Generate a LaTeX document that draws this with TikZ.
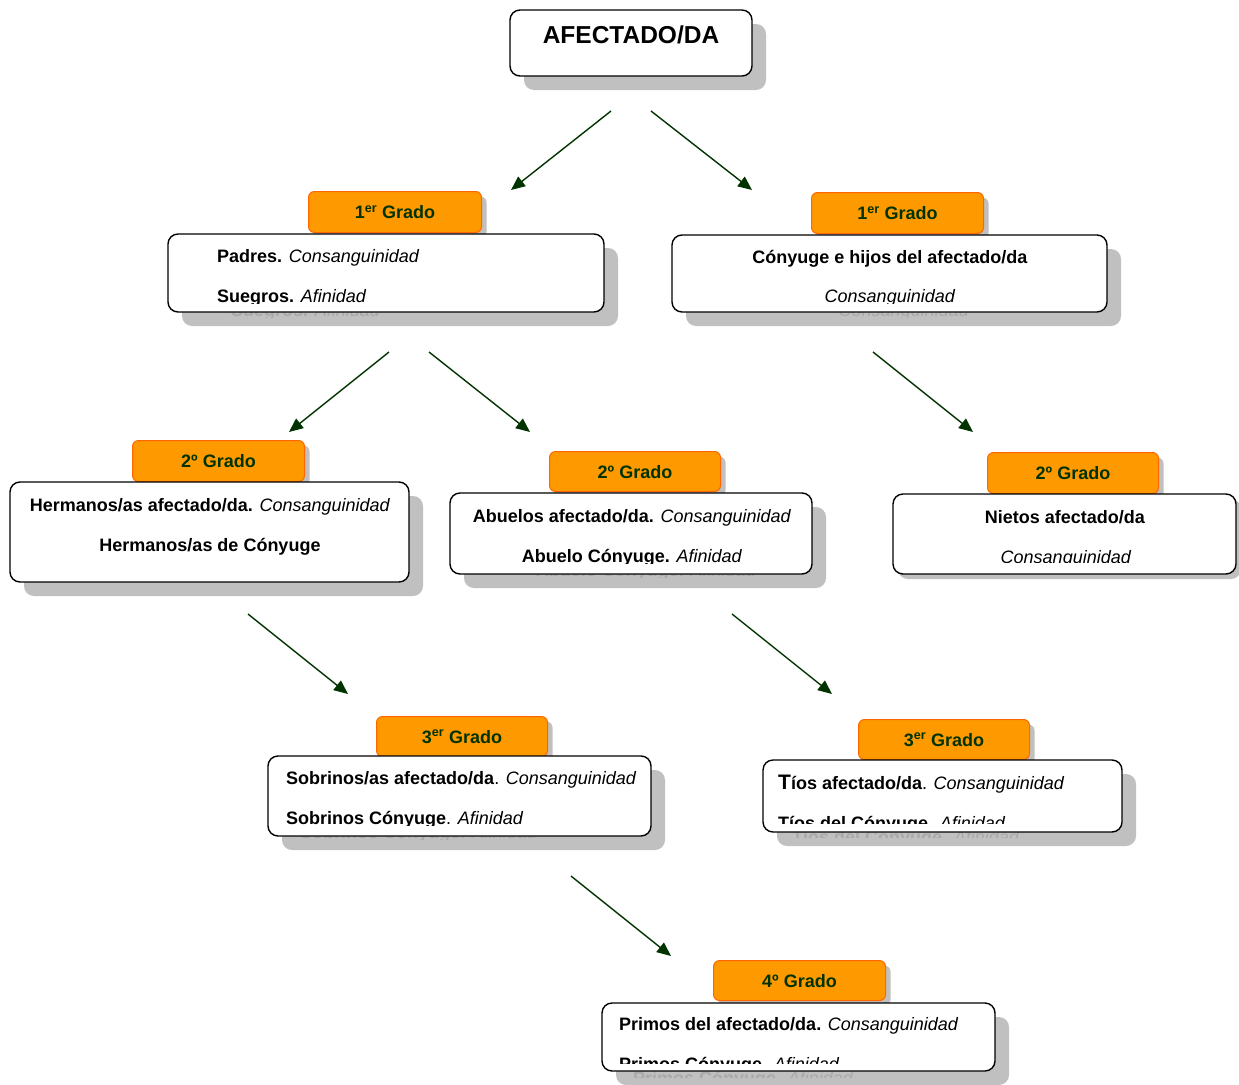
\documentclass[tikz,border=0pt]{standalone}
\usepackage{fontspec}
\setmainfont{Liberation Sans}
\usetikzlibrary{arrows.meta,shadows}
\definecolor{orfill}{HTML}{FF9900}
\definecolor{ordraw}{HTML}{FF6600}
\definecolor{dgreen}{HTML}{003300}
\definecolor{shcol}{HTML}{C0C0C0}
\definecolor{ghcol}{HTML}{AAAAAA}
\newcommand\bodyf{\fontsize{18pt}{21pt}\selectfont}
\newcommand\bigT{{\fontsize{21pt}{24pt}\selectfont T}}
\tikzset{
 mainbox/.style={draw=black, line width=1.4pt, fill=white, rounded corners=10pt, anchor=north west, inner sep=0pt, outer sep=0pt},
 gradobox/.style={draw=ordraw, line width=1pt, fill=orfill, rounded corners=6pt, anchor=north west, inner sep=0pt,
   text=dgreen, font=\bodyf\bfseries, text height=13pt, text depth=0pt,
   drop shadow={shadow xshift=5pt, shadow yshift=-5pt, fill=shcol, opacity=1}},
 txt/.style={font=\bodyf, inner sep=0pt, anchor=base west},
 ctxt/.style={font=\bodyf, inner sep=0pt, anchor=base},
 conn/.style={draw=dgreen, line width=1.4pt, -{Triangle[length=14pt,width=12pt]}},
 shad/.style={fill=shcol, rounded corners=10pt},
}
% name, x1, y1, x2, y2
\newcommand\mainbx[5]{\node[mainbox, minimum width={#4pt-#2pt}, minimum height={#5pt-#3pt}] (#1) at (#2,#3) {};}
% name, x1, y1, x2, y2, text
\newcommand\gradobx[6]{\node[gradobox, minimum width={#4pt-#2pt}, minimum height={#5pt-#3pt}] (#1) at (#2,#3) {#6};}
\begin{document}
\begin{tikzpicture}[x=1pt,y=-1pt]
\useasboundingbox (0,0) rectangle (1239,1084);

% ---------- shadows of the main boxes ----------
\fill[shad] (524,24) rectangle (766,90);
\fill[shad] (182,248) rectangle (618,326);
\fill[shad] (686,249) rectangle (1121,326);
\fill[shad] (24,496) rectangle (423,596);
\fill[shad] (464,507) rectangle (826,588);
\fill[shad] (898,499) rectangle (1241,579);
\fill[shad] (282,770) rectangle (665,850);
\fill[shad] (777,774) rectangle (1136,846);
\fill[shad] (616,1017) rectangle (1009,1085);

% ---------- text shadows (ghosts) ----------
\begin{scope}
 \clip (182,248) rectangle (618,317);
 \node[txt, text=ghcol] (gh1L) at (231,316) {\textbf{Suegros.} \textit{Afinidad}};
\end{scope}
\begin{scope}
 \clip (686,249) rectangle (1121,317);
 \node[ctxt, text=ghcol] (gh1R) at (904,316) {\textit{Consanguinidad}};
\end{scope}
\begin{scope}
 \clip (464,507) rectangle (826,577);
 \node[ctxt, text=ghcol] (gh2M) at (646,576) {\textbf{Abuelo Cónyuge.} \textit{Afinidad}};
\end{scope}
\begin{scope}
 \clip (282,770) rectangle (665,839);
 \node[txt, text=ghcol] (gh3L) at (300,838) {\textbf{Sobrinos Cónyuge}. \textit{Afinidad}};
\end{scope}
\begin{scope}
 \clip (777,774) rectangle (1136,837);
 \node[txt, text=ghcol] (gh3R) at (792,843) {\textbf{Tíos del Cónyuge}. \textit{Afinidad}};
\end{scope}
\begin{scope}
 \clip (616,1017) rectangle (1009,1077);
 \node[txt, text=ghcol] (gh4) at (633,1084) {\textbf{Primos Cónyuge}. \textit{Afinidad}};
\end{scope}

% ---------- grado labels ----------
\gradobx{g1L}{308}{191}{481}{232}{1\textsuperscript{er} Grado}
\gradobx{g1R}{811}{192}{983}{233}{1\textsuperscript{er} Grado}
\gradobx{g2L}{132}{440}{304}{481}{2º Grado}
\gradobx{g2M}{549}{451}{720}{491}{2º Grado}
\gradobx{g2R}{987}{452}{1158}{493}{2º Grado}
\gradobx{g3L}{376}{716}{547}{756}{3\textsuperscript{er} Grado}
\gradobx{g3R}{858}{719}{1029}{759}{3\textsuperscript{er} Grado}
\gradobx{g4}{713}{960}{885}{1000}{4º Grado}

% ---------- main boxes ----------
\mainbx{top}{510}{10}{752}{76}
\mainbx{b1L}{168}{234}{604}{312}
\mainbx{b1R}{672}{235}{1107}{312}
\mainbx{b2L}{10}{482}{409}{582}
\mainbx{b2M}{450}{493}{812}{574}
\mainbx{b2R}{893}{494}{1236}{574}
\mainbx{b3L}{268}{756}{651}{836}
\mainbx{b3R}{763}{760}{1122}{832}
\mainbx{b4}{602}{1003}{995}{1071}

% ---------- texts ----------
\node[font=\fontsize{24.5pt}{28pt}\selectfont\bfseries, anchor=base, inner sep=0pt] (ttl) at (631,43) {AFECTADO/DA};

\begin{scope}
 \clip (170,236) rectangle (602,303);
 \node[txt] (t1La) at (217,262) {\textbf{Padres.} \textit{Consanguinidad}};
 \node[txt] (t1Lb) at (217,302) {\textbf{Suegros.} \textit{Afinidad}};
\end{scope}
\begin{scope}
 \clip (674,237) rectangle (1105,303);
 \node[ctxt] (t1Ra) at (890,263) {\textbf{Cónyuge e hijos del afectado/da}};
 \node[ctxt] (t1Rb) at (890,302) {\textit{Consanguinidad}};
\end{scope}
\node[ctxt] (t2La) at (210,511) {\textbf{Hermanos/as afectado/da.} \textit{Consanguinidad}};
\node[ctxt] (t2Lb) at (210,551) {\textbf{Hermanos/as de Cónyuge}};
\begin{scope}
 \clip (452,495) rectangle (810,563);
 \node[ctxt] (t2Ma) at (632,522) {\textbf{Abuelos afectado/da.} \textit{Consanguinidad}};
 \node[ctxt] (t2Mb) at (632,562) {\textbf{Abuelo Cónyuge.} \textit{Afinidad}};
\end{scope}
\begin{scope}
 \clip (895,496) rectangle (1234,562);
 \node[ctxt] (t2Ra) at (1065,523) {\textbf{Nietos afectado/da}};
 \node[ctxt] (t2Rb) at (1066,563) {\textit{Consanguinidad}};
\end{scope}
\begin{scope}
 \clip (270,758) rectangle (649,825);
 \node[txt] (t3La) at (286,784) {\textbf{Sobrinos/as afectado/da}. \textit{Consanguinidad}};
 \node[txt] (t3Lb) at (286,824) {\textbf{Sobrinos Cónyuge}. \textit{Afinidad}};
\end{scope}
\begin{scope}
 \clip (765,762) rectangle (1120,823);
 \node[txt] (t3Ra) at (778,789) {\textbf{\bigT íos afectado/da}. \textit{Consanguinidad}};
 \node[txt] (t3Rb) at (778,829) {\textbf{Tíos del Cónyuge}. \textit{Afinidad}};
\end{scope}
\begin{scope}
 \clip (604,1005) rectangle (993,1063);
 \node[txt] (t4a) at (619,1030) {\textbf{Primos del afectado/da.} \textit{Consanguinidad}};
 \node[txt] (t4b) at (619,1070) {\textbf{Primos Cónyuge}. \textit{Afinidad}};
\end{scope}

% ---------- connectors ----------
\coordinate (a1s) at (611,111); \coordinate (a1e) at (511,190);
\coordinate (a2s) at (651,111); \coordinate (a2e) at (752,190);
\coordinate (a3s) at (389,352); \coordinate (a3e) at (289,432);
\coordinate (a4s) at (429,352); \coordinate (a4e) at (530,432);
\coordinate (a5s) at (873,352); \coordinate (a5e) at (973,432);
\coordinate (a6s) at (248,614); \coordinate (a6e) at (348,694);
\coordinate (a7s) at (732,614); \coordinate (a7e) at (832,694);
\coordinate (a8s) at (571,876); \coordinate (a8e) at (671,956);
\foreach \i in {1,...,8} {\draw[conn] (a\i s) -- (a\i e);}
\end{tikzpicture}
\end{document}
